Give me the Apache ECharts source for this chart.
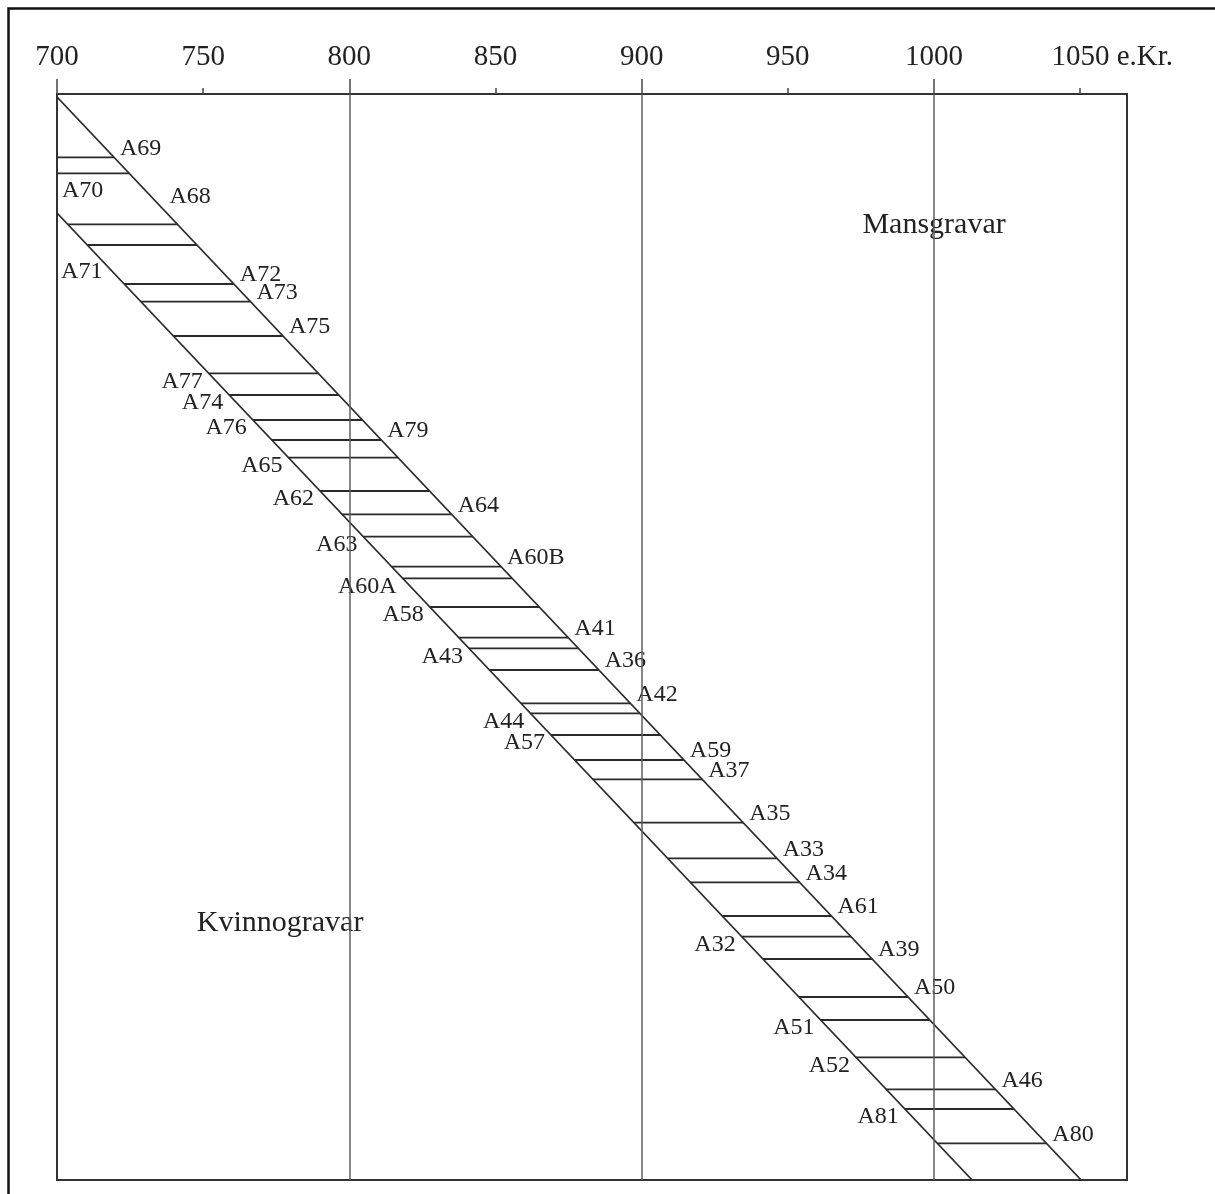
<!DOCTYPE html>
<html>
<head>
<meta charset="utf-8">
<script src="https://cdn.jsdelivr.net/npm/echarts@6/dist/echarts.min.js"></script>
<style>
html,body{margin:0;padding:0;background:#fff;}
#chart{width:1215px;height:1194px;}
</style>
</head>
<body>
<div id="chart"></div>
<script>
// ---- data ----
const tickLabels = [700, 750, 800, 850, 900, 950, 1000, 1050];
const majorTicks = [700, 800, 900, 1000];
const minorTicks = [750, 850, 950, 1050];
const gridYears = [800, 900, 1000];

const graveNames = ['A69','A70','A68','A71','A72','A73','A75','A77','A74','A76','A79','A65','A62','A64','A63','A60B','A60A','A58','A41','A43','A36','A42','A44','A57','A59','A37','A35','A33','A34','A61','A32','A39','A50','A51','A52','A46','A81','A80'];
const labelSide = ['R','L','R','L','R','R','R','L','L','L','R','L','L','R','L','R','L','L','R','L','R','R','L','L','R','R','R','R','R','R','L','R','R','L','L','R','L','R'];
const rowPos = [63.3,79.3,130.3,151,190,207.7,242,279.3,301,326,346,363.7,397,420.3,442.7,472.7,484.3,513,543.7,554.3,576,609.3,619.3,641,666,685.3,728.7,764.3,788.3,822,842.7,865,903,926,963.3,995.3,1015,1049.3];
const startYear = [700,700,703.7,710.4,723.0,728.7,739.8,751.9,758.9,767.0,773.5,779.2,790.0,797.5,804.8,814.5,818.2,827.5,837.5,840.9,847.9,858.7,861.9,869.0,877.1,883.3,897.3,908.9,916.6,927.5,934.2,941.5,953.8,961.2,973.3,983.6,990.0,1001.1];
const endYear = [719.5,724.7,741.2,747.9,760.5,766.2,777.3,789.4,796.4,804.5,810.9,816.7,827.4,835.0,842.2,851.9,855.7,865.0,874.9,878.3,885.3,896.1,899.3,906.4,914.4,920.7,934.7,946.2,954.0,964.9,971.6,978.8,991.1,998.5,1010.6,1021.0,1027.3,1038.4];

const upperEdge = [[700, 3], [1050.3, 1086]];
const lowerEdge = [[700, 119], [1013.0, 1086]];

const regionNames = ['Mansgravar', 'Kvinnogravar'];
const regionYear = [1000, 776.3];
const regionPos = [131, 829];

// ---- layout / style ----
const FONT = '"Liberation Serif", "Times New Roman", serif';
const INK = '#2a2a2a';
const labelNudge = {
  A68: {dx: -8, dy: -28, align: 'left', from: 'end'},
  A70: {dx: 5, dy: 17, align: 'left', from: 'start'},
  A71: {dx: 15, dy: 27, align: 'right', from: 'start'}
};

const rows = graveNames.map((n, i) => [startYear[i], endYear[i], rowPos[i], i]);
const regions = regionNames.map((n, i) => [regionYear[i], regionPos[i], i]);

const chart = echarts.init(document.getElementById('chart'), null, {renderer: 'canvas'});

const xCommon = {
  type: 'value', position: 'top', min: 700, max: 1066,
  splitLine: {show: false}, axisLine: {show: false}
};

chart.setOption({
  backgroundColor: '#fff',
  animation: false,
  graphic: [{
    type: 'rect', left: 6, top: 6, silent: true,
    shape: {width: 1400, height: 1400},
    style: {fill: 'none', stroke: '#111', lineWidth: 2.5}
  }],
  grid: {left: 57, right: 88, top: 94, bottom: 14, show: true, borderColor: '#333', borderWidth: 2, backgroundColor: 'transparent'},
  xAxis: [
    Object.assign({}, xCommon, {
      axisTick: {show: true, customValues: majorTicks, length: 15, lineStyle: {color: '#444', width: 1.5}},
      axisLabel: {
        show: true, customValues: tickLabels, margin: 22,
        fontFamily: FONT, fontSize: 29, lineHeight: 29, color: '#222',
        formatter: v => v === 1050 ? '{p|}1050 e.Kr.' : String(v),
        rich: {p: {width: 64}}
      }
    }),
    Object.assign({}, xCommon, {
      axisTick: {show: true, customValues: minorTicks, length: 6, lineStyle: {color: '#444', width: 1.5}},
      axisLabel: {show: false}
    })
  ],
  yAxis: {type: 'value', inverse: true, min: 0, max: 1086, show: false},
  series: [
    {
      type: 'line', name: 'grid', data: [], silent: true,
      markLine: {
        silent: true, symbol: 'none', label: {show: false},
        lineStyle: {color: '#5e5e5e', width: 1.5, type: 'solid'},
        data: gridYears.map(y => ({xAxis: y}))
      }
    },
    {type: 'line', name: 'upper', data: upperEdge, symbol: 'none', silent: true,
     lineStyle: {color: INK, width: 1.8}},
    {type: 'line', name: 'lower', data: lowerEdge, symbol: 'none', silent: true,
     lineStyle: {color: INK, width: 1.8}},
    {
      type: 'custom', name: 'graves', data: rows, silent: true,
      encode: {x: [0, 1], y: 2},
      renderItem: (params, api) => {
        const i = api.value(3);
        const s = api.coord([api.value(0), api.value(2)]);
        const e = api.coord([api.value(1), api.value(2)]);
        const name = graveNames[i];
        let tx, ty, align;
        const nd = labelNudge[name];
        if (nd) {
          const base = nd.from === 'end' ? e : s;
          tx = base[0] + nd.dx; ty = base[1] + nd.dy; align = nd.align;
        } else if (labelSide[i] === 'R') {
          tx = e[0] + 6; ty = e[1] - 9; align = 'left';
        } else {
          tx = s[0] - 6; ty = s[1] + 8; align = 'right';
        }
        return {
          type: 'group',
          children: [
            {type: 'line', shape: {x1: s[0], y1: s[1], x2: e[0], y2: e[1]},
             style: {stroke: INK, lineWidth: 1.8}},
            {type: 'text', x: tx, y: ty,
             style: {text: name, fill: '#222', font: '24px ' + FONT, align: align, verticalAlign: 'middle'}}
          ]
        };
      }
    },
    {
      type: 'custom', name: 'regions', data: regions, silent: true,
      encode: {x: 0, y: 1},
      renderItem: (params, api) => {
        const p = api.coord([api.value(0), api.value(1)]);
        return {type: 'text', x: p[0], y: p[1],
          style: {text: regionNames[api.value(2)], fill: '#222', font: '30px ' + FONT, align: 'center', verticalAlign: 'middle'}};
      }
    }
  ]
});
</script>
</body>
</html>
